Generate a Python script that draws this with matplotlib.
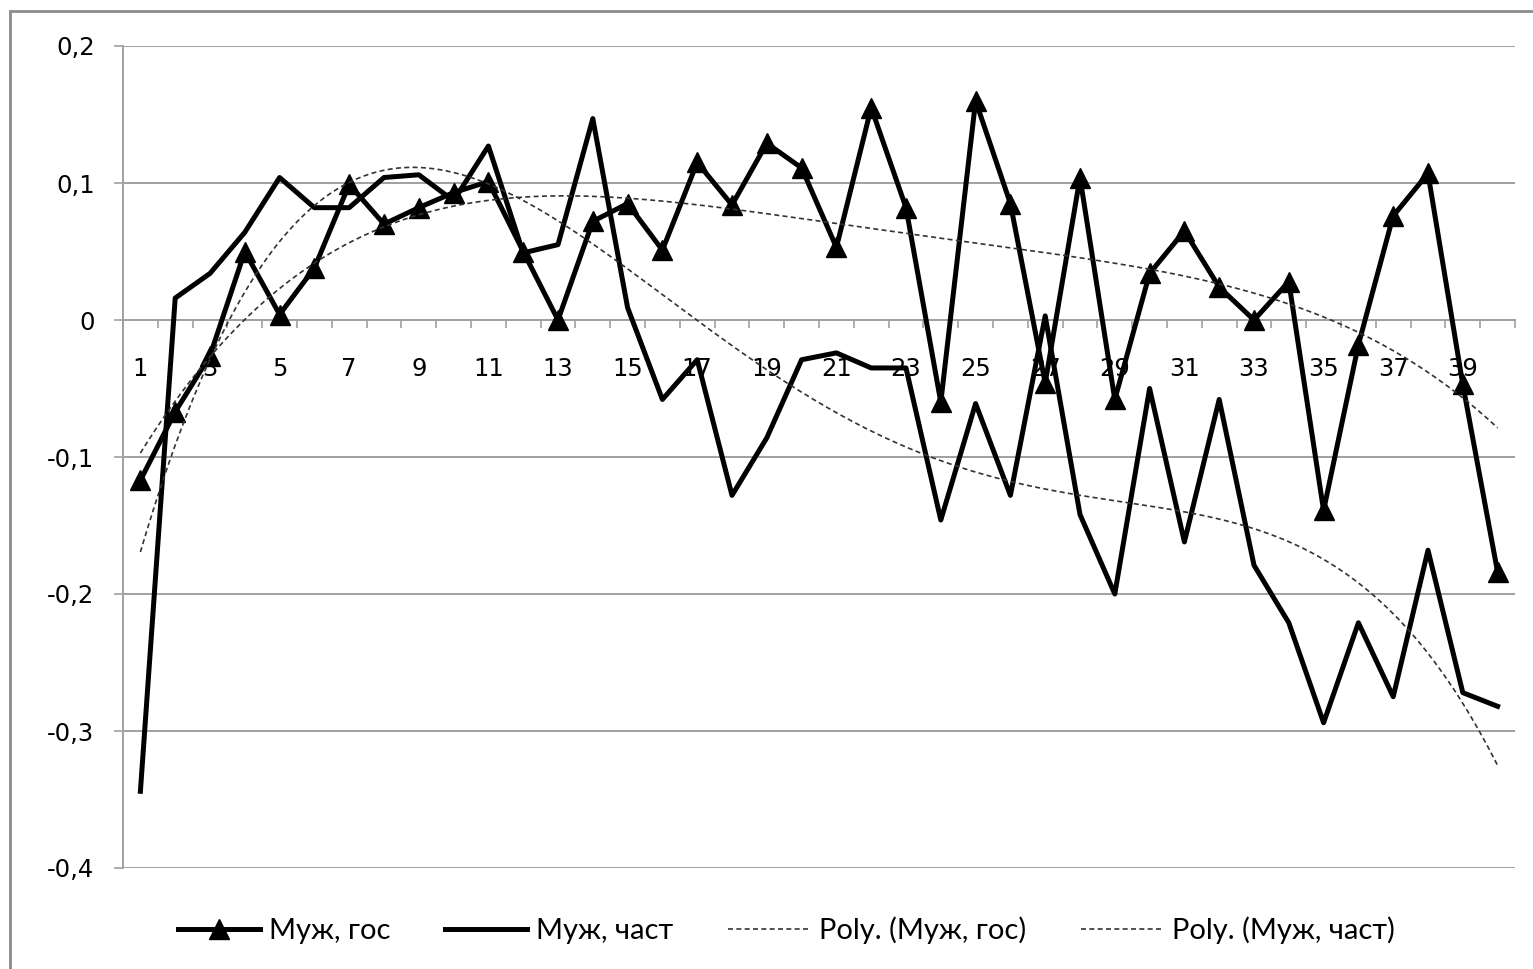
import numpy as np
import matplotlib
matplotlib.use("Agg")
import matplotlib.pyplot as plt
from matplotlib.patches import Rectangle

# data
categories = list(range(1, 41))
muzh_gos = [-0.117, -0.067, -0.026, 0.050, 0.004, 0.038, 0.099, 0.070, 0.082, 0.093,
            0.101, 0.050, 0.000, 0.072, 0.085, 0.051, 0.115, 0.084, 0.129, 0.111,
            0.053, 0.155, 0.082, -0.060, 0.160, 0.085, -0.046, 0.104, -0.058, 0.034,
            0.065, 0.024, 0.000, 0.028, -0.139, -0.018, 0.076, 0.107, -0.047, -0.184]
muzh_chast = [-0.344, 0.016, 0.034, 0.064, 0.104, 0.082, 0.082, 0.104, 0.106, 0.087,
              0.127, 0.049, 0.055, 0.147, 0.009, -0.058, -0.029, -0.128, -0.086, -0.029,
              -0.024, -0.035, -0.035, -0.146, -0.061, -0.128, 0.003, -0.142, -0.200, -0.050,
              -0.162, -0.058, -0.179, -0.221, -0.294, -0.221, -0.275, -0.168, -0.272, -0.282]
y_ticks = [0.2, 0.1, 0, -0.1, -0.2, -0.3, -0.4]
y_tick_labels = ["0,2", "0,1", "0", "-0,1", "-0,2", "-0,3", "-0,4"]
x_tick_pos = list(range(1, 41, 2))
x_tick_labels = [str(i) for i in x_tick_pos]
labels = ["Муж, гос", "Муж, част", "Poly. (Муж, гос)", "Poly. (Муж, част)"]

plt.rcParams['font.family'] = ['DejaVu Sans']
grid_col = "#a0a0a0"

fig = plt.figure(figsize=(15.33, 9.69), dpi=100)
ax = fig.add_axes([123 / 1533, 101 / 969, 1392 / 1533, 822 / 969])

x = np.array(categories)
l1, = ax.plot(x, muzh_gos, color="black", lw=3.6, marker="^", ms=15, zorder=3)
l2, = ax.plot(x, muzh_chast, color="black", lw=3.6, zorder=3)

# polynomial trendlines (order 4)
xf = np.linspace(1, 40, 400)
p_gos = np.polyfit(x, muzh_gos, 4)
p_chast = np.polyfit(x, muzh_chast, 4)
l3, = ax.plot(xf, np.polyval(p_gos, xf), color="#333333", lw=1.2, ls=(0, (3, 2)), zorder=4)
l4, = ax.plot(xf, np.polyval(p_chast, xf), color="#333333", lw=1.2, ls=(0, (3, 2)), zorder=4)

ax.set_xlim(0.5, 40.5)
ax.set_ylim(-0.4, 0.2)
ax.set_yticks(y_ticks)
ax.set_yticklabels(y_tick_labels, fontsize=17.5)
ax.yaxis.grid(True, color=grid_col, lw=1.4)
ax.set_axisbelow(True)

ax.spines["top"].set_visible(False)
ax.spines["right"].set_visible(False)
ax.spines["left"].set_color(grid_col)
ax.spines["left"].set_linewidth(1.4)
ax.spines["bottom"].set_position(("data", 0))
ax.spines["bottom"].set_color(grid_col)
ax.spines["bottom"].set_linewidth(1.4)

ax.set_xticks(x_tick_pos)
ax.set_xticklabels(x_tick_labels, fontsize=17.5)
ax.set_xticks(np.arange(0.5, 41, 1), minor=True)
ax.tick_params(axis="x", which="major", length=0, pad=27)
ax.tick_params(axis="x", which="minor", length=6, color=grid_col, width=1.2, direction="out")
ax.tick_params(axis="y", length=6.5, color=grid_col, width=1.2, pad=14)

fig.legend([l1, l2, l3, l4], labels, loc="center", bbox_to_anchor=(0.513, 39 / 969),
           ncol=4, frameon=False, handlelength=2.8, handletextpad=0.3, columnspacing=1.9,
           prop={"family": ["Lato", "DejaVu Sans"], "size": 21})

# chart area border
fig.patches.append(Rectangle((10 / 1533, -0.05), 1.1, 1.05 - 11 / 969, transform=fig.transFigure,
                             fill=False, edgecolor="#8c8c8c", lw=2))

fig.savefig("out.png", dpi=100)
